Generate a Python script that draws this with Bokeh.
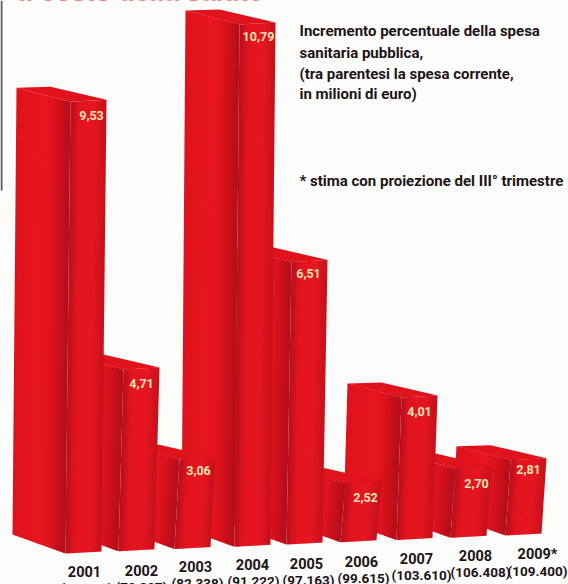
from bokeh.plotting import figure
from bokeh.embed import file_html
from bokeh.resources import INLINE
from bokeh.core.properties import value

# Data: yearly growth of public health spending and current spending
years = ["2001", "2002", "2003", "2004", "2005", "2006", "2007", "2008", "2009*"]
growth = [9.53, 4.71, 3.06, 10.79, 6.51, 2.52, 4.01, 2.70, 2.81]
growth_labels = ["9,53", "4,71", "3,06", "10,79", "6,51", "2,52", "4,01", "2,70", "2,81"]
spending_labels = ["(76.305)", "(79.897)", "(82.338)", "(91.222)", "(97.163)",
                   "(99.615)", "(103.610)", "(106.408)", "(109.400)"]

# Layout of the extruded columns, in page pixels
W, H = 568, 584
RIGHT_EDGE = [106, 159, 215, 275, 327, 381, 437, 491, 546]
LABEL_DX = [-15, -18, -17, -17, -19, -16, -18, -15, -18]
LABEL_DY = [16, 16, 13, 14, 14, 16, 16, 17, 11]
YEAR_X = [84, 141, 195, 252, 306, 361, 416, 475, 537]
YEAR_Y = [571, 570, 566, 564, 563, 561, 558, 555, 554]
SPEND_X = [86, 141, 197, 253, 308, 363, 421, 480, 537]

PX_PER_UNIT = 56.0     # vertical pixels for one percentage point
BASE_VALUE = 1.5       # the value axis is truncated here
BASE_PX = 549.0        # page row of BASE_VALUE under the first column
TILT_PX = 2.25         # the whole row of columns climbs to the right


def val(py):
    """Value-axis coordinate of a page row."""
    return BASE_VALUE + (BASE_PX - py) / PX_PER_UNIT


p = figure(width=W, height=H, x_range=(0, W), y_range=(val(H), val(0)),
           output_backend="svg", toolbar_location=None, min_border=0,
           background_fill_color="#fcfcfa", border_fill_color="#fcfcfa",
           outline_line_color=None)
p.axis.visible = False
p.grid.visible = False


def lerp(a, b, t):
    return a + (b - a) * t


def mix(stops, t):
    for (t0, c0), (t1, c1) in zip(stops, stops[1:]):
        if t <= t1:
            u = (t - t0) / (t1 - t0) if t1 > t0 else 0
            rgb = [round(lerp(c0[k], c1[k], u)) for k in range(3)]
            return "#%02x%02x%02x" % tuple(rgb)
    return "#%02x%02x%02x" % stops[-1][1]


LEFT_FACE = [(0.0, (222, 18, 28)), (0.5, (234, 22, 30)), (0.72, (220, 18, 28)), (1.0, (178, 14, 26))]
RIGHT_FACE = [(0.0, (182, 14, 26)), (0.25, (226, 20, 30)), (0.65, (230, 22, 32)), (1.0, (198, 16, 28))]
TOP_FACE = (224, 18, 28)


def add_face(xs, ys, colours, top_a, top_b, base_a, base_b, stops, n):
    for s in range(n):
        t0, t1 = s / n, (s + 1) / n + 0.02
        t1 = min(t1, 1.0)
        xs.append([lerp(top_a[0], top_b[0], t0), lerp(top_a[0], top_b[0], t1),
                   lerp(base_a[0], base_b[0], t1), lerp(base_a[0], base_b[0], t0)])
        ys.append([lerp(top_a[1], top_b[1], t0), lerp(top_a[1], top_b[1], t1),
                   lerp(base_a[1], base_b[1], t1), lerp(base_a[1], base_b[1], t0)])
        colours.append(mix(stops, (t0 + t1) / 2))


xs, ys, colours = [], [], []
# Later years stand behind earlier ones, so they are painted first
for i in reversed(range(len(years))):
    R = RIGHT_EDGE[i]
    rise = TILT_PX * i / PX_PER_UNIT
    top = growth[i] + rise
    base = BASE_VALUE + rise
    off = 1 / PX_PER_UNIT

    top_right = (R, top)
    top_ridge = (R - 36, top - 2 * off)
    top_left = (R - 90, top + 12 * off)
    top_back = (R - 56, top + 13 * off)
    base_right = (R - 5, base - 2 * off)
    base_ridge = (R - 41, base - 4 * off)
    base_left = (R - 94, base + 15 * off)

    xs.append([top_left[0], top_back[0], top_right[0], top_ridge[0]])
    ys.append([top_left[1], top_back[1], top_right[1], top_ridge[1]])
    colours.append("#%02x%02x%02x" % TOP_FACE)
    add_face(xs, ys, colours, top_left, top_ridge, base_left, base_ridge, LEFT_FACE, 22)
    add_face(xs, ys, colours, top_ridge, top_right, base_ridge, base_right, RIGHT_FACE, 16)

p.patches(xs, ys, fill_color=colours, line_color=None)

# Dark trim along the left margin
p.segment(x0=[1], y0=[val(0)], x1=[1], y1=[val(190)], line_color="#5a5a5a", line_width=2)

FONT = value("Roboto")
INK = "#1c1418"


def draw_text(x, y, text, size, colour=INK, align="left"):
    p.text(x=x, y=y, text=text, text_font=FONT, text_font_style="bold",
           text_font_size=size, text_color=colour, text_align=align,
           text_baseline="middle")


# Value labels on the columns
draw_text([RIGHT_EDGE[i] + LABEL_DX[i] for i in range(9)],
          [val(BASE_PX - TILT_PX * i - (growth[i] - BASE_VALUE) * PX_PER_UNIT + LABEL_DY[i]) for i in range(9)],
          growth_labels, "12.5px", colour="#fbe3b4", align="center")

# Year row and current-spending row beneath it
draw_text(YEAR_X, [val(y) for y in YEAR_Y], years, "14.5px", align="center")
draw_text(SPEND_X, [val(y + 16) for y in YEAR_Y], spending_labels, "13.5px", align="center")

# Notes at the upper right
draw_text([299] * 4, [val(y) for y in (30, 52, 73, 93)],
          ["Incremento percentuale della spesa", "sanitaria pubblica,",
           "(tra parentesi la spesa corrente,", "in milioni di euro)"], "15px")
draw_text([299], [val(180)], ["* stima con proiezione del III° trimestre"], "15px")

# Headline, running off the top of the page
p.text(x=[18], y=[val(6.5)], text=["Il costo della salute"], text_font=value("Liberation Sans"),
       text_font_style="bold", text_font_size="26.5px", text_color="#e3141e",
       text_baseline="bottom")

open("out.html", "w").write(file_html(p, INLINE))
